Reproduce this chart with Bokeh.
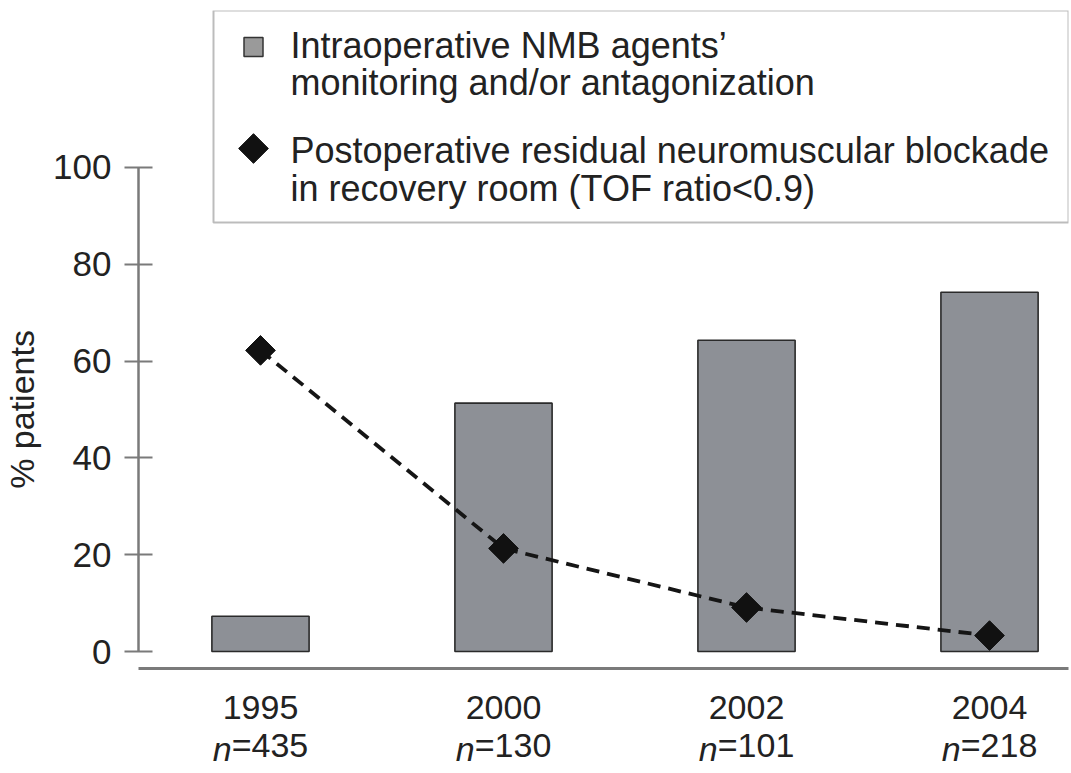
import math
from bokeh.plotting import figure
from bokeh.models import (ColumnDataSource, Label, BoxAnnotation, Range1d, FixedTicker, LinearAxis)
from bokeh.embed import file_html
from bokeh.resources import INLINE

# ---------------- data ----------------
years = ["1995", "2000", "2002", "2004"]
n_values = ["435", "130", "101", "218"]
monitoring_pct = [7.3, 51.3, 64.3, 74.2]          # bars
residual_block_pct = [62.2, 21.3, 9.1, 3.3]       # diamonds / dashed line
y_ticks = [0, 20, 40, 60, 80, 100]
legend_bar_lines = ["Intraoperative NMB agents\u2019", "monitoring and/or antagonization"]
legend_line_lines = ["Postoperative residual neuromuscular blockade", "in recovery room (TOF ratio<0.9)"]
y_label = "% patients"

xpos = list(range(len(years)))

FONT = "Liberation Sans"
TXT = "#222222"
AXIS = "#7a7a7a"
FS = "34px"

W, H = 1071, 773
ML, MR, MT, MB = 138, 3, 10, 105
X0, X1 = -0.502, 3.325
Y0, Y1 = -3.5, 132.4
p = figure(width=W, height=H, output_backend="svg", toolbar_location=None,
           x_range=Range1d(X0, X1), y_range=Range1d(Y0, Y1),
           min_border_left=ML, min_border_right=MR, min_border_top=MT, min_border_bottom=MB)
p.xgrid.visible = False
p.ygrid.visible = False
p.outline_line_color = None
p.background_fill_color = "white"
p.border_fill_color = "white"

px = (X1 - X0) / (W - ML - MR)     # data units per pixel, x
py = (Y1 - Y0) / (H - MT - MB)     # data units per pixel, y

# bars
src = ColumnDataSource(dict(x=xpos, top=monitoring_pct, res=residual_block_pct))
p.vbar(x="x", top="top", bottom=0, width=0.4, source=src,
       fill_color="#8d9096", line_color="#2a2a2a", line_width=1.6)

# dashed line + diamonds
p.line(x="x", y="res", source=src, line_color="#151515", line_width=3.8, line_dash="13 8")
p.scatter(x="x", y="res", source=src, marker="square", angle=math.pi / 4, size=21,
          fill_color="#111111", line_color="#111111")

# y axis
yax = p.yaxis[0]
yax.ticker = FixedTicker(ticks=y_ticks)
yax.bounds = (0, 100)
yax.minor_tick_line_color = None
yax.major_tick_in = 14
yax.major_tick_out = 14
yax.major_tick_line_color = AXIS
yax.major_tick_line_width = 2
yax.axis_line_color = AXIS
yax.axis_line_width = 2.5
yax.major_label_text_font = FONT
yax.major_label_text_font_size = "35px"
yax.major_label_text_color = TXT
yax.major_label_standoff = 13

# y axis title centred on the 0-100 span: an extra axis carrying one label
mid = (y_ticks[0] + y_ticks[-1]) / 2
ytitle = LinearAxis(ticker=FixedTicker(ticks=[mid]), major_label_overrides={mid: y_label},
                    major_label_orientation="vertical", axis_line_color=None,
                    major_tick_line_color=None, minor_tick_line_color=None,
                    major_label_text_font=FONT, major_label_text_font_size=FS,
                    major_label_text_color=TXT, major_label_standoff=3)
p.add_layout(ytitle, "left")

# x axis: line + year labels
xax = p.xaxis[0]
xax.ticker = FixedTicker(ticks=xpos)
xax.major_label_overrides = {x: y for x, y in zip(xpos, years)}
xax.axis_line_color = AXIS
xax.axis_line_width = 3
xax.major_tick_line_color = None
xax.minor_tick_line_color = None
xax.major_label_text_font = FONT
xax.major_label_text_font_size = FS
xax.major_label_text_color = TXT
xax.major_label_standoff = 21

# second line "n=435": "=435" part and italic "n" part
eq_shift = 9.5 * px
n_shift = -38.3 * px
eq_ticks = [x + eq_shift for x in xpos]
n_ticks = [x + n_shift for x in xpos]
eq_axis = LinearAxis(ticker=FixedTicker(ticks=eq_ticks),
                     major_label_overrides={t: "=" + v for t, v in zip(eq_ticks, n_values)},
                     axis_line_color=None, major_tick_line_color=None, minor_tick_line_color=None,
                     major_label_text_font=FONT, major_label_text_font_size=FS,
                     major_label_text_color=TXT, major_label_standoff=-2)
p.add_layout(eq_axis, "below")
n_axis = LinearAxis(ticker=FixedTicker(ticks=n_ticks),
                    major_label_overrides={t: "n" for t in n_ticks},
                    axis_line_color=None, major_tick_line_color=None, minor_tick_line_color=None,
                    major_label_text_font=FONT, major_label_text_font_size=FS,
                    major_label_text_font_style="italic",
                    major_label_text_color=TXT, major_label_standoff=-43)
p.add_layout(n_axis, "below")

# legend (manual)
lx0 = X0 + 75 * px
p.add_layout(BoxAnnotation(left=lx0, bottom=Y1 - 212 * py, fill_alpha=0,
                           line_color="#222222", line_width=2))
sw_x = lx0 + 40 * px
p.scatter(x=[sw_x], y=[Y1 - 36.5 * py], marker="square", size=19,
          fill_color="#9a9a9a", line_color="#333333", line_width=1.5)
p.scatter(x=[sw_x], y=[Y1 - 138 * py], marker="square", angle=math.pi / 4, size=21,
          fill_color="#111111", line_color="#111111")
tx = lx0 + 77 * px
for i, txt in enumerate(legend_bar_lines):
    p.add_layout(Label(x=tx, y=Y1 - (35 + 37 * i) * py, text=txt, text_baseline="middle",
                       text_font=FONT, text_font_size="36px", text_color=TXT))
for i, txt in enumerate(legend_line_lines):
    p.add_layout(Label(x=tx, y=Y1 - (140 + 38 * i) * py, text=txt, text_baseline="middle",
                       text_font=FONT, text_font_size="36px", text_color=TXT))

open("out.html", "w").write(file_html(p, INLINE))
